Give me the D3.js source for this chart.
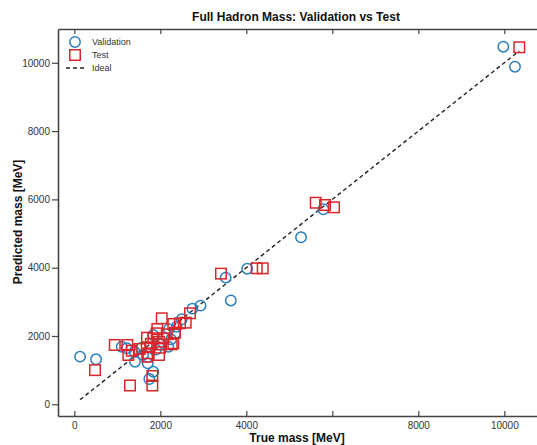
<!DOCTYPE html>
<html>
<head>
<meta charset="utf-8">
<script src="https://cdn.jsdelivr.net/npm/d3@7"></script>
<style>
  html, body { margin: 0; padding: 0; background: #fff; }
  svg { display: block; font-family: "Liberation Sans", Arial, Helvetica, sans-serif; }
</style>
</head>
<body>
<div id="chart"></div>
<script>
// ---- data (true mass, predicted mass) in MeV ----
const validationTrue = [133, 505, 1102, 1219, 1400, 1412, 1550, 1707, 1744, 1837, 1700, 1837, 1900, 2186, 2250, 2342, 2381, 2200, 2498, 2745, 2935, 3520, 3640, 4020, 5272, 5791, 9977, 10249, 1600, 2000];
const validationPred = [1395, 1317, 1687, 1640, 1540, 1247, 1650, 1200, 741, 955, 1380, 2029, 1600, 1687, 1900, 2079, 2272, 2200, 2489, 2800, 2890, 3710, 3040, 3970, 4890, 5710, 10472, 9886, 1450, 1750];
const testTrue = [481, 940, 1233, 1256, 1335, 1295, 1690, 1684, 1698, 1721, 1814, 1814, 1930, 1970, 1970, 1993, 2033, 2070, 1837, 1916, 2265, 2302, 2302, 2342, 2458, 2591, 2691, 3410, 4242, 4381, 5614, 5830, 6040, 10349, 1520, 2150, 1780];
const testPred = [1000, 1737, 1737, 1444, 1570, 550, 1950, 1669, 1394, 1493, 829, 550, 2205, 1833, 1444, 1657, 2518, 1932, 1932, 2079, 1757, 1786, 2351, 2097, 2372, 2390, 2665, 3826, 3982, 3982, 5903, 5836, 5768, 10454, 1620, 2050, 1770];
const xTicks = [0, 2000, 4000, 6000, 8000, 10000];
// the 6000 label is hidden behind the axis title in the reference
const xTickLabels = ["0", "2000", "4000", "", "8000", "10000"];
const yTicks = [0, 2000, 4000, 6000, 8000, 10000];
const yTickLabels = ["0", "2000", "4000", "6000", "8000", "10000"];
const legendLabels = ["Validation", "Test", "Ideal"];
const titleText = "Full Hadron Mass: Validation vs Test";
const xLabelText = "True mass [MeV]";
const yLabelText = "Predicted mass [MeV]";

const W = 537, H = 445;
const colV = "#2a7fbf", colT = "#d8262b", axisCol = "#444";

const svg = d3.select("#chart").append("svg").attr("width", W).attr("height", H);

const x = d3.scaleLinear().domain([-380, 11000]).range([58, 547.3]);
const y = d3.scaleLinear().domain([-343, 10990]).range([416, 29]);

// axes
const gBottom = svg.append("g").attr("transform", `translate(0,${y.range()[0]})`)
  .call(d3.axisBottom(x).tickValues(xTicks).tickSizeInner(-5).tickSizeOuter(0).tickPadding(6)
    .tickFormat((d, i) => xTickLabels[i]));
const gTop = svg.append("g").attr("transform", `translate(0,${y.range()[1]})`)
  .call(d3.axisTop(x).tickValues(xTicks).tickSizeInner(-5).tickSizeOuter(0).tickFormat(""));
const gLeft = svg.append("g").attr("transform", `translate(${x.range()[0]},0)`)
  .call(d3.axisLeft(y).tickValues(yTicks).tickSizeInner(6).tickSizeOuter(0).tickPadding(2)
    .tickFormat((d, i) => yTickLabels[i]));

[gBottom, gTop, gLeft].forEach(g => {
  g.select(".domain").attr("stroke", axisCol).attr("stroke-width", 1.6);
  g.selectAll(".tick line").attr("stroke", axisCol).attr("stroke-width", 1.2);
  g.selectAll(".tick text").attr("fill", "#333").style("font-size", "10px")
    .style("font-family", '"Liberation Sans", Arial, sans-serif');
});

// ideal line
const allTrue = validationTrue.concat(testTrue);
const ext = d3.extent(allTrue);
svg.append("line")
  .attr("x1", x(ext[0])).attr("y1", y(ext[0]))
  .attr("x2", x(ext[1])).attr("y2", y(ext[1]))
  .attr("stroke", "#222").attr("stroke-width", 1.4).attr("stroke-dasharray", "4,3");

// validation circles
svg.append("g").selectAll("circle").data(d3.range(validationTrue.length)).join("circle")
  .attr("cx", i => x(validationTrue[i])).attr("cy", i => y(validationPred[i]))
  .attr("r", 5.2).attr("fill", "none").attr("stroke", colV).attr("stroke-width", 1.5);

// test squares
const s = 10.5;
svg.append("g").selectAll("rect").data(d3.range(testTrue.length)).join("rect")
  .attr("x", i => x(testTrue[i]) - s / 2).attr("y", i => y(testPred[i]) - s / 2)
  .attr("width", s).attr("height", s).attr("fill", "none").attr("stroke", colT).attr("stroke-width", 1.5);

// legend
const lg = svg.append("g");
lg.append("circle").attr("cx", 75).attr("cy", 42).attr("r", 5.2).attr("fill", "none").attr("stroke", colV).attr("stroke-width", 1.5);
lg.append("rect").attr("x", 75 - s / 2).attr("y", 55 - s / 2).attr("width", s).attr("height", s).attr("fill", "none").attr("stroke", colT).attr("stroke-width", 1.5);
lg.append("line").attr("x1", 66).attr("x2", 85).attr("y1", 68).attr("y2", 68).attr("stroke", "#222").attr("stroke-width", 1.4).attr("stroke-dasharray", "4,3");
lg.selectAll("text").data(legendLabels).join("text")
  .attr("x", 92).attr("y", (d, i) => 45 + i * 13)
  .attr("fill", "#333").style("font-size", "9px").text(d => d);

// title & labels
svg.append("text").attr("x", 296).attr("y", 21).attr("text-anchor", "middle")
  .style("font-size", "12px").style("font-weight", "bold").attr("fill", "#111").text(titleText);
svg.append("text").attr("x", 297).attr("y", 442).attr("text-anchor", "middle")
  .style("font-size", "12px").style("font-weight", "bold").attr("fill", "#111").text(xLabelText);
svg.append("text").attr("transform", "translate(22,222) rotate(-90)").attr("text-anchor", "middle")
  .style("font-size", "12px").style("font-weight", "bold").attr("fill", "#111").text(yLabelText);
</script>
</body>
</html>
